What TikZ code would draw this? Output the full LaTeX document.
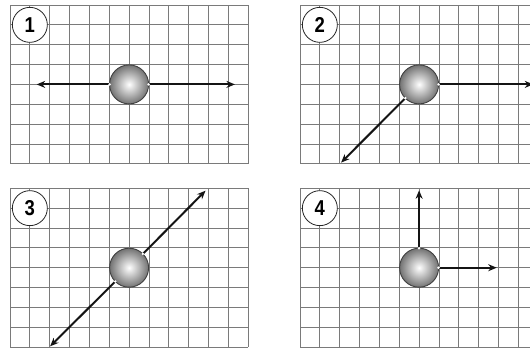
\documentclass[tikz,border=0pt]{standalone}
\usepackage{fontspec}
\setmainfont{Liberation Sans}
\newfontfamily\numfont{Liberation Sans}[FakeStretch=0.86]
\usetikzlibrary{arrows.meta}
\tikzset{
  gridline/.style={draw=black!52, line width=0.9pt},
  ball/.style={circle, minimum size=39pt, inner sep=0pt, outer sep=0pt,
    draw=black!75, line width=0.9pt, inner color=white, outer color=black!55},
  numlabel/.style={circle, minimum size=35pt, inner sep=0pt, draw=black!85,
    line width=0.8pt, fill=white, font=\numfont\fontsize{21.5}{21.5}\selectfont\bfseries},
  vec/.style={draw=black!92, line width=2pt, -{Stealth[length=8.5pt,width=7pt]}},
  joint/.style={fill=white},
  panel/.style={x=19.85pt, y=-19.85pt},
}
\newcommand\gridpanel{%
  \foreach \i in {0,...,12} \draw[gridline] (\i,0) -- (\i,8);
  \foreach \j in {0,...,8} \draw[gridline] (0,\j) -- (12,\j);
}
\begin{document}
\begin{tikzpicture}[x=1pt, y=-1pt]
\useasboundingbox (0,0) rectangle (530,349);
\clip (0,0) rectangle (530,349);
\fill[white] (0,0) rectangle (530,349);

% Panel 1
\begin{scope}[shift={(10pt,-5pt)}, panel]
  \gridpanel
  \node[numlabel] (n1) at (1,1) {1};
  \node[ball] (b1) at (6,4) {};
  \coordinate (t1l) at (1.345,4);
  \coordinate (t1r) at (11.33,4);
  \draw[vec] (b1.west) -- (t1l);
  \draw[vec] (b1.east) -- (t1r);
  \fill[joint] (b1.west) circle (1.4pt);
  \fill[joint] (b1.east) circle (1.4pt);
\end{scope}

% Panel 2
\begin{scope}[shift={(300pt,-5pt)}, panel]
  \gridpanel
  \node[numlabel] (n2) at (1,1) {2};
  \node[ball] (b2) at (6,4) {};
  \coordinate (t2r) at (11.75,4);
  \coordinate (t2d) at (2.07,7.94);
  \draw[vec] (b2.east) -- (t2r);
  \draw[vec] (b2.225) -- (t2d);
  \fill[joint] (b2.east) circle (1.4pt);
  \fill[joint] (b2.225) circle (1.4pt);
\end{scope}

% Panel 3
\begin{scope}[shift={(10pt,-188.3pt)}, panel]
  \gridpanel
  \node[numlabel] (n3) at (1,1) {3};
  \node[ball] (b3) at (6,4) {};
  \coordinate (t3u) at (9.85,0.12);
  \coordinate (t3d) at (2.02,7.96);
  \draw[vec] (b3.45) -- (t3u);
  \draw[vec] (b3.225) -- (t3d);
  \fill[joint] (b3.45) circle (1.4pt);
  \fill[joint] (b3.225) circle (1.4pt);
\end{scope}

% Panel 4
\begin{scope}[shift={(300pt,-188.3pt)}, panel]
  \gridpanel
  \node[numlabel] (n4) at (1,1) {4};
  \node[ball] (b4) at (6,4) {};
  \coordinate (t4u) at (6,0.1);
  \coordinate (t4r) at (9.91,4);
  \draw[vec] (b4.north) -- (t4u);
  \draw[vec] (b4.east) -- (t4r);
  \fill[joint] (b4.north) circle (1.4pt);
  \fill[joint] (b4.east) circle (1.4pt);
\end{scope}
\end{tikzpicture}
\end{document}
